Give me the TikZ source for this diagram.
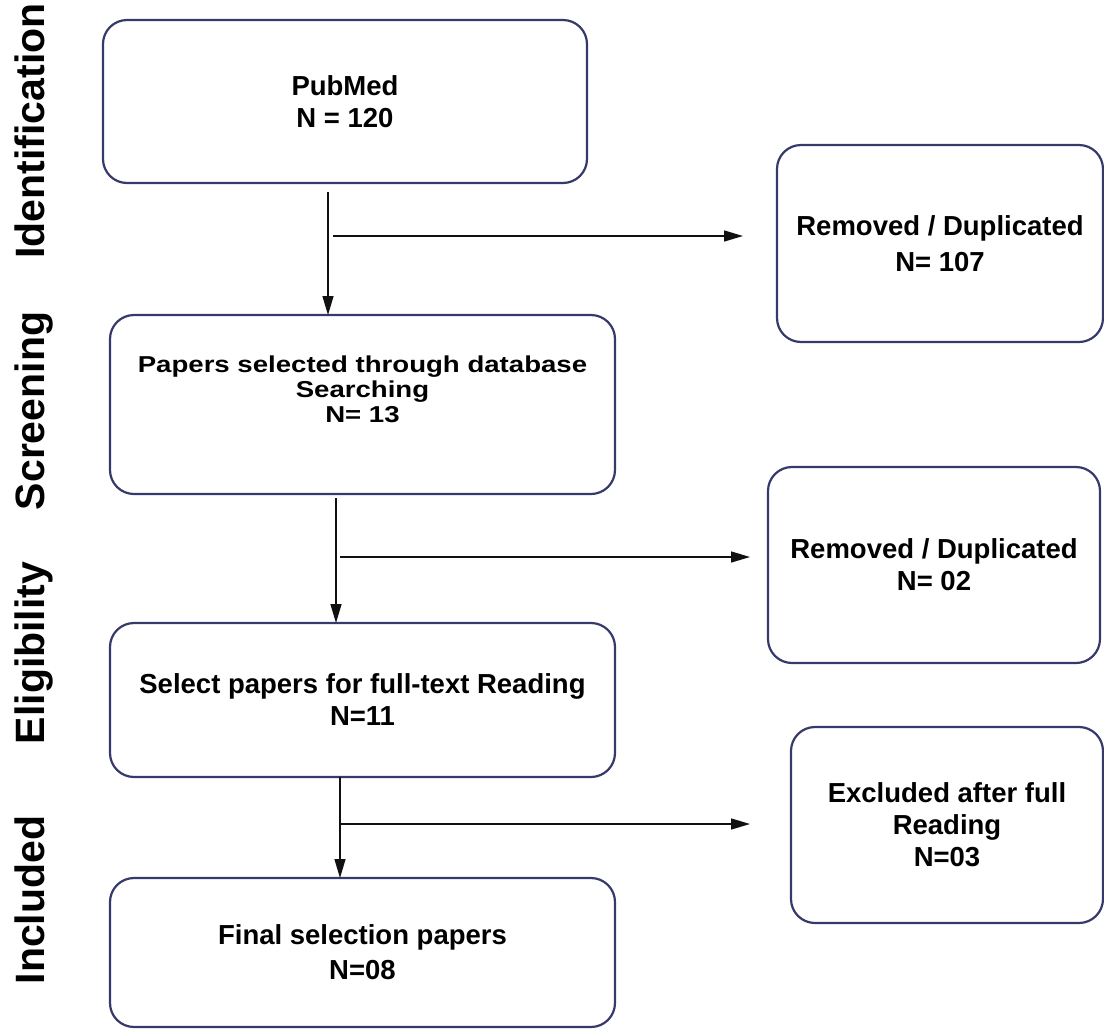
\documentclass[tikz,border=0pt]{standalone}
\usepackage{fontspec}
\setmainfont{Liberation Sans}
\newfontfamily\squatfont[FakeStretch=1.2]{Liberation Sans}
\usepackage{xcolor}
\usepackage{tikz}
\usetikzlibrary{arrows.meta,positioning,calc}
\definecolor{FlowNavy}{HTML}{363A6A}
\definecolor{FlowInk}{HTML}{111111}

\begin{document}
\begin{tikzpicture}[x=1pt,y=-1pt,>={Triangle[length=19pt,width=11pt]}]
  \tikzset{record/.style={draw=FlowNavy,line width=2.2pt,rounded corners=24pt,
    anchor=north west,inner sep=0pt,outer sep=0pt,align=center,
    font=\bfseries\fontsize{27.5}{32}\selectfont},
    phase/.style={rotate=90,anchor=base,font=\bfseries\fontsize{41}{45}\selectfont},
    flow/.style={->,FlowInk,line width=1.4pt}}
  \useasboundingbox (0,0) rectangle (1104,1029);
  % stages
  \node[phase] (ident) at (45,131) {Identification};
  \node[phase] (screening) at (45,411) {Screening};
  \node[phase] (eligib) at (45,653) {Eligibility};
  \node[phase] (incl) at (45,900) {Included};
  % main column
  \node[record,minimum width=484pt,minimum height=163pt] (pubmed) at (103,20) {PubMed\\N = 120};
  \node[record,minimum width=505pt,minimum height=179pt,
    font=\squatfont\bfseries\fontsize{23}{25}\selectfont] (screen) at (110,315)
    {Papers selected through database\\Searching\\N= 13\\[6pt]};
  \node[record,minimum width=505pt,minimum height=154pt] (fulltext) at (110,623) {Select papers for full-text Reading\\N=11};
  \node[record,minimum width=505pt,minimum height=149pt] (final) at (110,878) {Final selection papers\\[3pt]N=08};
  % side boxes
  \node[record,minimum width=326pt,minimum height=197pt] (removeda) at (777,145) {Removed / Duplicated\\[4pt]N= 107};
  \node[record,minimum width=332pt,minimum height=196pt] (removedb) at (768,467) {Removed / Duplicated\\N= 02};
  \node[record,minimum width=312pt,minimum height=196pt] (excluded) at (791,727) {Excluded after full\\Reading\\N=03};
  % connectors
  \coordinate (s1) at ([xshift=-17pt,yshift=-9pt]pubmed.south);
  \coordinate (s2) at ([xshift=-26.5pt,yshift=-4pt]screen.south);
  \coordinate (s3) at ([xshift=-22.5pt]fulltext.south);
  \draw[flow] (s1) -- (s1 |- screen.north);
  \draw[flow] (s2) -- (s2 |- fulltext.north);
  \draw[flow] (s3) -- (s3 |- final.north);
  \coordinate (j1) at (333,236);
  \coordinate (j2) at (340,557);
  \coordinate (j3) at (s3 |- 0,824);
  \draw[flow,shorten >=34pt] (j1) -- (j1 -| removeda.west);
  \draw[flow,shorten >=18pt] (j2) -- (j2 -| removedb.west);
  \draw[flow,shorten >=41pt] (j3) -- (j3 -| excluded.west);
\end{tikzpicture}
\end{document}
